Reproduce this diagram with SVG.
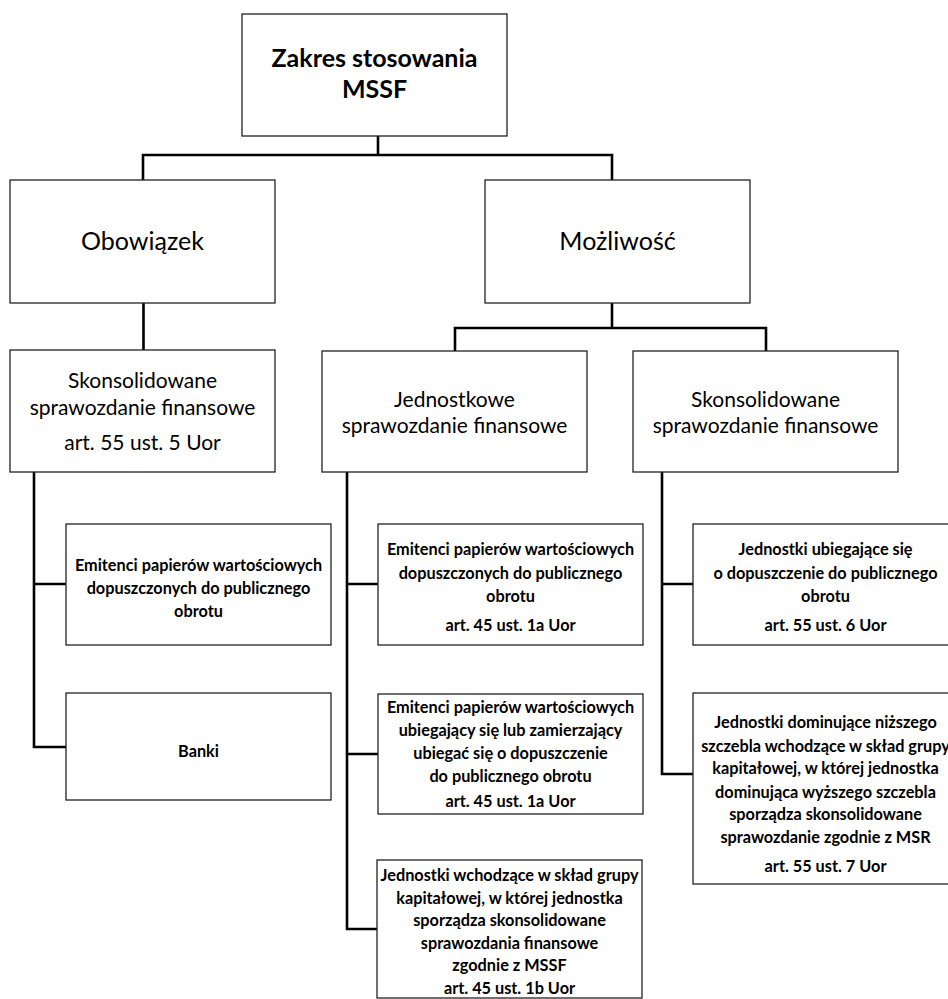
<svg xmlns="http://www.w3.org/2000/svg" width="948" height="999" viewBox="0 0 948 999">
<style>
.box{fill:#fff;stroke:#222;stroke-width:1.3}
.con{fill:none;stroke:#000;stroke-width:2.6;stroke-linejoin:miter}
text{font-family:Lato,"Liberation Sans",sans-serif;fill:#000;text-anchor:middle}
.t1{font-size:25px;font-weight:bold}
.t2{font-size:25px}
.t3{font-size:21px}
.t4{font-size:16.3px;font-weight:bold}
</style>
<rect width="948" height="999" fill="#fff"/>
<g id="connectors">
<path class="con" d="M378 136V155M143 180V155H612V180"/>
<path class="con" d="M143.5 303V350"/>
<path class="con" d="M612 303V328M455 351V328H766V351"/>
<path class="con" d="M34 472V747H66M34 584H66"/>
<path class="con" d="M347 472V929H378M347 584H378M347 754H378"/>
<path class="con" d="M662 472V774H693M662 584H693"/>
</g>
<g id="title"><rect class="box" x="242" y="14" width="265" height="122"/>
<text class="t1" x="374.5" y="67">Zakres stosowania</text><text class="t1" x="374.5" y="98">MSSF</text></g>
<g id="obowiazek"><rect class="box" x="10" y="180" width="265" height="123"/>
<text class="t2" x="142.5" y="250">Obowiązek</text></g>
<g id="mozliwosc"><rect class="box" x="485" y="180" width="265" height="123"/>
<text class="t2" x="617.5" y="250">Możliwość</text></g>
<g id="skons-obow"><rect class="box" x="10" y="350" width="265" height="122"/>
<text class="t3" x="142.5" y="388">Skonsolidowane</text><text class="t3" x="142.5" y="415">sprawozdanie finansowe</text><text class="t3" x="142.5" y="450">art. 55 ust. 5 Uor</text></g>
<g id="jednostkowe"><rect class="box" x="322" y="351" width="265" height="121"/>
<text class="t3" x="454.5" y="407">Jednostkowe</text><text class="t3" x="454.5" y="433">sprawozdanie finansowe</text></g>
<g id="skons-mozl"><rect class="box" x="633" y="351" width="265" height="121"/>
<text class="t3" x="765.5" y="407">Skonsolidowane</text><text class="t3" x="765.5" y="433">sprawozdanie finansowe</text></g>
<g id="emitenci-obow"><rect class="box" x="66" y="524" width="265" height="121"/>
<text class="t4" x="198.5" y="571">Emitenci papierów wartościowych</text><text class="t4" x="198.5" y="594">dopuszczonych do publicznego</text><text class="t4" x="198.5" y="617">obrotu</text></g>
<g id="banki"><rect class="box" x="66" y="693" width="265" height="107"/>
<text class="t4" x="198.5" y="757">Banki</text></g>
<g id="emitenci-dopuszczeni"><rect class="box" x="378" y="524" width="265" height="121"/>
<text class="t4" x="510.5" y="555">Emitenci papierów wartościowych</text><text class="t4" x="510.5" y="579">dopuszczonych do publicznego</text><text class="t4" x="510.5" y="602">obrotu</text><text class="t4" x="510.5" y="631">art. 45 ust. 1a Uor</text></g>
<g id="emitenci-ubiegajacy"><rect class="box" x="378" y="694" width="265" height="120"/>
<text class="t4" x="510.5" y="713">Emitenci papierów wartościowych</text><text class="t4" x="510.5" y="736">ubiegający się lub zamierzający</text><text class="t4" x="510.5" y="759">ubiegać się o dopuszczenie</text><text class="t4" x="510.5" y="782">do publicznego obrotu</text><text class="t4" x="510.5" y="807">art. 45 ust. 1a Uor</text></g>
<g id="jednostki-grupy"><rect class="box" x="377" y="860" width="265" height="138"/>
<text class="t4" x="509.5" y="881">Jednostki wchodzące w skład grupy</text><text class="t4" x="509.5" y="904">kapitałowej, w której jednostka</text><text class="t4" x="509.5" y="926">sporządza skonsolidowane</text><text class="t4" x="509.5" y="949">sprawozdania finansowe</text><text class="t4" x="509.5" y="971">zgodnie z MSSF</text><text class="t4" x="509.5" y="994">art. 45 ust. 1b Uor</text></g>
<g id="jednostki-ubiegajace"><rect class="box" x="693" y="524" width="265" height="121"/>
<text class="t4" x="825.5" y="555">Jednostki ubiegające się</text><text class="t4" x="825.5" y="579">o dopuszczenie do publicznego</text><text class="t4" x="825.5" y="602">obrotu</text><text class="t4" x="825.5" y="631">art. 55 ust. 6 Uor</text></g>
<g id="jednostki-dominujace"><rect class="box" x="693" y="693" width="265" height="191"/>
<text class="t4" x="825.5" y="728">Jednostki dominujące niższego</text><text class="t4" x="825.5" y="752">szczebla wchodzące w skład grupy</text><text class="t4" x="825.5" y="774">kapitałowej, w której jednostka</text><text class="t4" x="825.5" y="798">dominująca wyższego szczebla</text><text class="t4" x="825.5" y="820">sporządza skonsolidowane</text><text class="t4" x="825.5" y="843">sprawozdanie zgodnie z MSR</text><text class="t4" x="825.5" y="872">art. 55 ust. 7 Uor</text></g>
</svg>
